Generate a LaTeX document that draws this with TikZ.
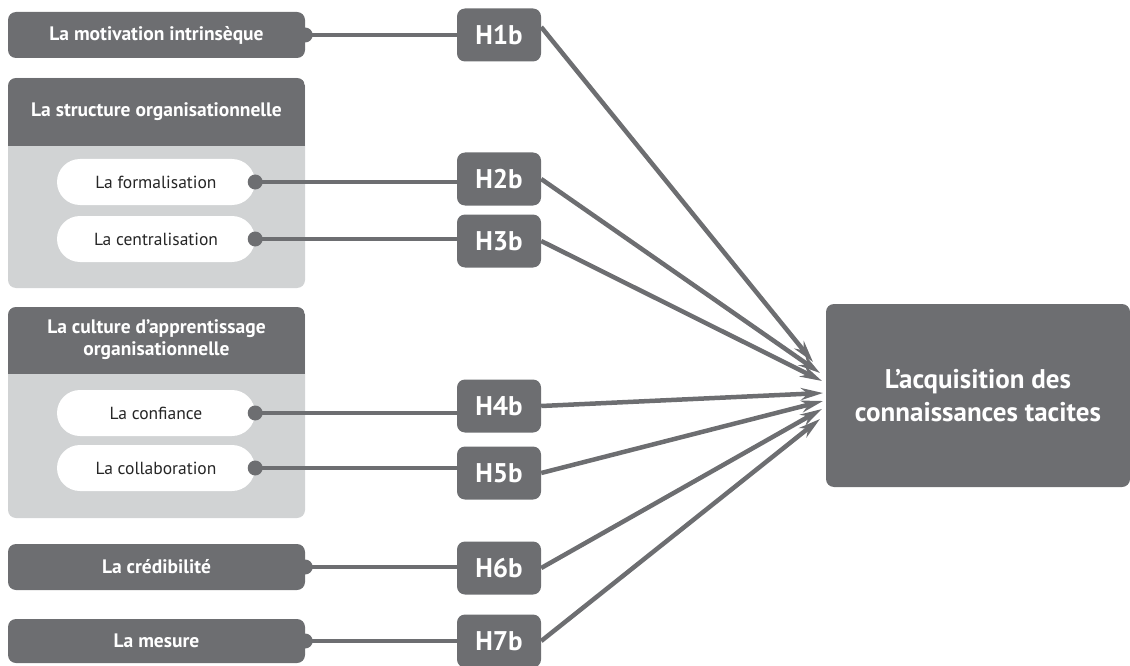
\documentclass[tikz,border=0pt]{standalone}
\usepackage{fontspec}
\setmainfont{PT Sans}
\usetikzlibrary{arrows.meta}
\definecolor{darkg}{HTML}{6D6E71}
\definecolor{lightg}{HTML}{D1D3D4}
\begin{document}
\begin{tikzpicture}[x=1pt,y=-1pt,
  darkbox/.style={fill=darkg,text=white,rounded corners=8pt,inner sep=0pt,
    minimum width=297pt,minimum height=46pt,font=\fontsize{19.5}{22}\selectfont\bfseries},
  hbox/.style={fill=darkg,text=white,rounded corners=8pt,inner sep=0pt,
    minimum width=84pt,minimum height=53pt,font=\fontsize{27}{30}\selectfont\bfseries},
  pill/.style={fill=white,rounded corners=23pt,inner sep=0pt,
    minimum width=198pt,minimum height=46pt,text=black!85,font=\fontsize{17.5}{20}\selectfont},
  headtext/.style={text=white,align=center,font=\fontsize{19.5}{22}\selectfont\bfseries},
  dotc/.style={circle,fill=darkg,inner sep=0pt,minimum size=15pt},
  link/.style={draw=darkg,line width=4pt},
  arr/.style={draw=darkg,line width=4.5pt,-{Stealth[length=22pt,width=12pt,inset=7pt]}}
]
\useasboundingbox (0,0) rectangle (1130,666);

% group panels with dark headers
\fill[lightg,rounded corners=8pt] (8,78) rectangle (305,288);
\begin{scope}
  \clip[rounded corners=8pt] (8,78) rectangle (305,288);
  \fill[darkg] (8,78) rectangle (305,146);
\end{scope}
\node[headtext] (structhead) at (156.5,112) {La structure organisationnelle};

\fill[lightg,rounded corners=8pt] (8,307) rectangle (305,518);
\begin{scope}
  \clip[rounded corners=8pt] (8,307) rectangle (305,518);
  \fill[darkg] (8,307) rectangle (305,374);
\end{scope}
\node[headtext] (culthead) at (156.5,340) {La culture d’apprentissage\\organisationnelle};

% factor boxes
\node[darkbox] (mot) at (156.5,35) {La motivation intrinsèque};
\node[pill] (form) at (156,182) {La formalisation};
\node[pill] (cent) at (156,239) {La centralisation};
\node[pill] (conf) at (156,413) {La confiance};
\node[pill] (coll) at (156,468) {La collaboration};
\node[darkbox] (cred) at (156.5,567) {La crédibilité};
\node[darkbox,minimum height=44pt] (mes) at (156.5,641) {La mesure};

% hypothesis labels
\node[hbox] (h1) at (499,35) {H1b};
\node[hbox] (h2) at (499,179) {H2b};
\node[hbox] (h3) at (499,241) {H3b};
\node[hbox] (h4) at (499,406) {H4b};
\node[hbox] (h5) at (499,473) {H5b};
\node[hbox] (h6) at (499,568) {H6b};
\node[hbox] (h7) at (499,641) {H7b};

% outcome
\node[fill=darkg,text=white,rounded corners=8pt,inner sep=0pt,
  minimum width=304pt,minimum height=183pt,align=center,
  font=\fontsize{27}{33}\selectfont\bfseries] (acq) at (978,395.5)
  {L’acquisition des\\connaissances tacites};

% connector dots
\node[dotc] (d1) at (mot.east) {};
\node[dotc] (d2) at (form.east) {};
\node[dotc] (d3) at (cent.east) {};
\node[dotc] (d4) at (conf.east) {};
\node[dotc] (d5) at (coll.east) {};
\node[dotc] (d6) at (cred.east) {};
\node[dotc] (d7) at (mes.east) {};

% links to hypotheses
\foreach \i in {1,...,7}
  \draw[link] (d\i.center) -- (d\i.center -| h\i.west);

% arrow end points on the outcome box
\coordinate (t1) at (813,362);
\coordinate (t2) at (820,373);
\coordinate (t3) at (822,381);
\coordinate (t4) at (823,393);
\coordinate (t5) at (823,401);
\coordinate (t6) at (822,409);
\coordinate (t7) at (820,419);

\draw[arr] ([yshift=8pt]h1.east) -- (t1);
\draw[arr] (h2.east) -- (t2);
\draw[arr] (h3.east) -- (t3);
\draw[arr] (h4.east) -- (t4);
\draw[arr] (h5.east) -- (t5);
\draw[arr] (h6.east) -- (t6);
\draw[arr] (h7.east) -- (t7);
\end{tikzpicture}
\end{document}
